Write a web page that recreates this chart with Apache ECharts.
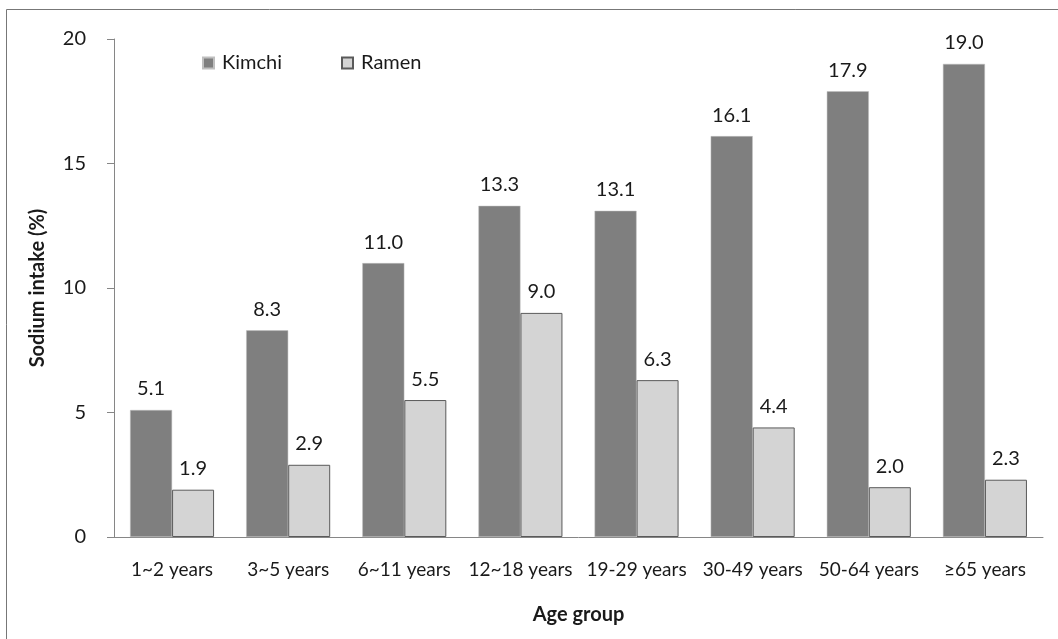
<!DOCTYPE html>
<html>
<head>
<meta charset="utf-8">
<script src="https://cdn.jsdelivr.net/npm/echarts@6/dist/echarts.min.js"></script>
<style>
html,body{margin:0;padding:0;background:#fff;}
#chart{width:1058px;height:639px;}
</style>
</head>
<body>
<div id="chart"></div>
<script>
const categories = ['1~2 years','3~5 years','6~11 years','12~18 years','19-29 years','30-49 years','50-64 years','\u226565 years'];
const kimchi = [5.1, 8.3, 11.0, 13.3, 13.1, 16.1, 17.9, 19.0];
const ramen = [1.9, 2.9, 5.5, 9.0, 6.3, 4.4, 2.0, 2.3];
const yTicks = [0, 5, 10, 15, 20];

const FONT = 'Lato';
const chart = echarts.init(document.getElementById('chart'), null, {renderer:'canvas'});
const labelStyle = {
  show: true, position: 'top', distance: 11,
  color: '#1a1a1a', fontFamily: FONT, fontSize: 20,
  formatter: p => p.value.toFixed(1)
};
chart.setOption({
  animation: false,
  backgroundColor: '#fff',
  textStyle: {fontFamily: FONT},
  graphic: [{
    type: 'rect', shape: {x: 6.5, y: 9.5, width: 1060, height: 640},
    style: {fill: 'none', stroke: '#777', lineWidth: 1}, silent: true, z: -1
  }],
  grid: {left: 114, right: 15, top: 39, bottom: 102, containLabel: false},
  legend: [
    {data: ['Kimchi'], left: 197, top: 48, icon: 'rect', itemWidth: 11, itemHeight: 11, itemGap: 0,
     textStyle: {fontFamily: FONT, fontSize: 20, color: '#1a1a1a', padding: [0, 0, 0, 3]}},
    {data: ['Ramen'], left: 336, top: 48, icon: 'rect', itemWidth: 11, itemHeight: 11, itemGap: 0,
     textStyle: {fontFamily: FONT, fontSize: 20, color: '#1a1a1a', padding: [0, 0, 0, 3]}}
  ],
  xAxis: {
    type: 'category', data: categories,
    name: 'Age group', nameLocation: 'middle', nameGap: 68,
    nameTextStyle: {fontFamily: FONT, fontSize: 20, fontWeight: 'bold', color: '#1a1a1a'},
    axisLine: {lineStyle: {color: '#868686', width: 1}},
    axisTick: {show: false},
    axisLabel: {margin: 23, fontFamily: FONT, fontSize: 19, color: '#1a1a1a', interval: 0}
  },
  yAxis: {
    type: 'value', min: 0, max: 20, interval: 5,
    name: 'Sodium intake (%)', nameLocation: 'middle', nameGap: 66, nameRotate: 90,
    nameTextStyle: {fontFamily: FONT, fontSize: 20, fontWeight: 'bold', color: '#1a1a1a'},
    axisLine: {show: true, lineStyle: {color: '#868686', width: 1}},
    axisTick: {show: true, length: 7, lineStyle: {color: '#868686'}},
    splitLine: {show: false},
    axisLabel: {margin: 28, fontFamily: FONT, fontSize: 20, color: '#1a1a1a',
      formatter: v => yTicks.includes(v) ? String(v) : ''}
  },
  series: [
    {name: 'Kimchi', type: 'bar', data: kimchi, barWidth: 42, barGap: '0%',
     itemStyle: {color: '#7f7f7f', borderColor: '#bfbfbf', borderWidth: 0.5},
     label: labelStyle},
    {name: 'Ramen', type: 'bar', data: ramen, barWidth: 42,
     itemStyle: {color: '#d4d4d4', borderColor: '#5a5a5a', borderWidth: 1},
     label: labelStyle}
  ]
});
</script>
</body>
</html>
